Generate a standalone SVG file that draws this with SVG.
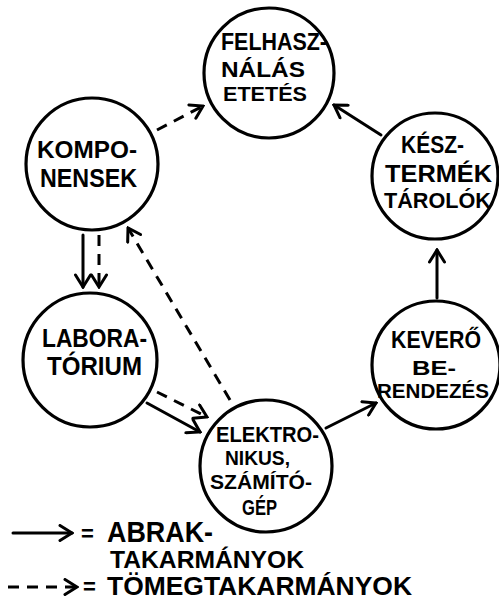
<svg xmlns="http://www.w3.org/2000/svg" width="499" height="600" viewBox="0 0 499 600">
<style>
.node circle{fill:#fff;stroke:#000;stroke-width:3.2}
text{font-family:"Liberation Sans","DejaVu Sans",sans-serif;font-weight:bold;fill:#000}
.c{fill:none;stroke:#000;stroke-width:3;stroke-linecap:round}
.d{stroke-dasharray:11 8;stroke-linecap:butt}
</style>
<defs>
<marker id="ah" markerUnits="userSpaceOnUse" viewBox="0 0 16 18" refX="14" refY="9" markerWidth="16" markerHeight="18" orient="auto">
<path d="M2,1.5 L14,9 L2,16.5" fill="none" stroke="#000" stroke-width="3" stroke-linejoin="miter" stroke-linecap="round"/>
</marker>
</defs>
<rect width="499" height="600" fill="#fff"/>
<g id="connectors">
<line class="c d" x1="157" y1="130" x2="203" y2="106" marker-end="url(#ah)"/>
<line class="c" x1="83" y1="235" x2="83" y2="287" marker-end="url(#ah)"/>
<line class="c d" x1="99" y1="235" x2="99" y2="287" marker-end="url(#ah)"/>
<line class="c d" x1="230" y1="400" x2="128" y2="228" marker-end="url(#ah)"/>
<line class="c d" x1="157" y1="392" x2="207" y2="417" marker-end="url(#ah)"/>
<line class="c" x1="147" y1="403" x2="200" y2="432" marker-end="url(#ah)"/>
<line class="c" x1="326" y1="428" x2="376" y2="403" marker-end="url(#ah)"/>
<line class="c" x1="437" y1="298" x2="437" y2="250" marker-end="url(#ah)"/>
<line class="c" x1="381" y1="135" x2="334" y2="105" marker-end="url(#ah)"/>
</g>
<g id="felhasznalas" class="node">
<circle cx="269" cy="73" r="65"/>
<text x="221" y="50" font-size="23" textLength="106" lengthAdjust="spacingAndGlyphs">FELHASZ-</text>
<text x="221" y="77" font-size="22" textLength="84" lengthAdjust="spacingAndGlyphs">NÁLÁS</text>
<text x="223" y="101" font-size="20" textLength="84" lengthAdjust="spacingAndGlyphs">ETETÉS</text>
</g>
<g id="komponensek" class="node">
<circle cx="92" cy="164" r="66"/>
<text x="37" y="158" font-size="24" textLength="100" lengthAdjust="spacingAndGlyphs">KOMPO-</text>
<text x="40" y="187" font-size="25" textLength="97" lengthAdjust="spacingAndGlyphs">NENSEK</text>
</g>
<g id="keszterm" class="node">
<circle cx="435" cy="176" r="63"/>
<text x="401" y="153" font-size="24" textLength="63" lengthAdjust="spacingAndGlyphs">KÉSZ-</text>
<text x="385" y="182" font-size="23" textLength="107" lengthAdjust="spacingAndGlyphs">TERMÉK</text>
<text x="384" y="208" font-size="22" textLength="107" lengthAdjust="spacingAndGlyphs">TÁROLÓK</text>
</g>
<g id="laboratorium" class="node">
<circle cx="90" cy="360" r="67"/>
<text x="42" y="347" font-size="26" textLength="105" lengthAdjust="spacingAndGlyphs">LABORA-</text>
<text x="47" y="375" font-size="25" textLength="95" lengthAdjust="spacingAndGlyphs">TÓRIUM</text>
</g>
<g id="kevero" class="node">
<circle cx="436" cy="365" r="64"/>
<text x="391" y="348" font-size="23" textLength="90" lengthAdjust="spacingAndGlyphs">KEVERŐ</text>
<text x="412" y="375" font-size="20" textLength="44" lengthAdjust="spacingAndGlyphs">BE-</text>
<text x="377" y="398" font-size="20" textLength="112" lengthAdjust="spacingAndGlyphs">RENDEZÉS</text>
</g>
<g id="elektronikus" class="node">
<circle cx="266" cy="466" r="66"/>
<text x="216" y="442" font-size="22" textLength="103" lengthAdjust="spacingAndGlyphs">ELEKTRO-</text>
<text x="225" y="465" font-size="20" textLength="65" lengthAdjust="spacingAndGlyphs">NIKUS,</text>
<text x="210" y="489" font-size="20" textLength="102" lengthAdjust="spacingAndGlyphs">SZÁMÍTÓ-</text>
<text x="242" y="515" font-size="22" textLength="35" lengthAdjust="spacingAndGlyphs">GÉP</text>
</g>
<g id="legend">
<line class="c" x1="13" y1="533" x2="72" y2="533" marker-end="url(#ah)"/>
<text x="81" y="541" font-size="22">=</text>
<text x="107" y="542" font-size="29" textLength="106" lengthAdjust="spacingAndGlyphs">ABRAK-</text>
<text x="110" y="568" font-size="23" textLength="194" lengthAdjust="spacingAndGlyphs">TAKARMÁNYOK</text>
<line class="c d" x1="8" y1="587" x2="77" y2="587" marker-end="url(#ah)"/>
<text x="83" y="594" font-size="22">=</text>
<text x="107" y="595" font-size="25" textLength="305" lengthAdjust="spacingAndGlyphs">TÖMEGTAKARMÁNYOK</text>
</g>
</svg>
